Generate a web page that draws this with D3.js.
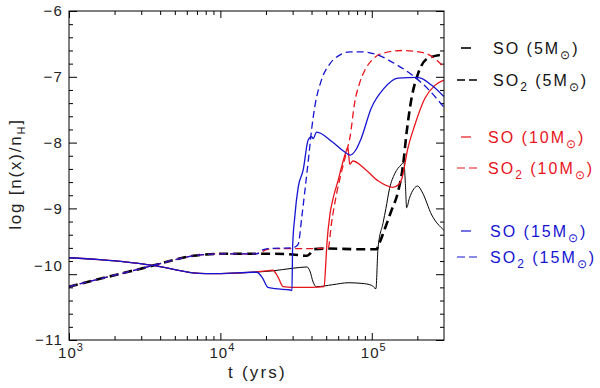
<!DOCTYPE html>
<html>
<head>
<meta charset="utf-8">
<script src="https://cdn.jsdelivr.net/npm/d3@7"></script>
<style>
  body { margin: 0; background: #fff; }
  text { font-family: "Liberation Sans", Arial, sans-serif; fill: #222; }
</style>
</head>
<body>
<div id="chart"></div>
<script>
// ---- data (time in yrs, log abundance) ----
var so5T  = [1e3, 1.6e3, 2.5e3, 3.7e3, 5e3, 6.6e3, 8e3, 1e4, 1.64e4, 2.2e4, 3e4, 3.73e4, 3.9e4, 4.1e4, 4.3e4, 5.5e4, 7e4, 8.6e4, 1e5, 1.065e5, 1.1e5, 1.19e5, 1.24e5, 1.31e5, 1.42e5, 1.56e5, 1.63e5, 1.665e5, 1.7e5, 1.77e5, 1.9e5, 2.01e5, 2.15e5, 2.49e5, 2.99e5];
var so5   = [-9.75, -9.78, -9.82, -9.87, -9.93, -9.98, -9.99, -9.99, -9.97, -9.95, -9.91, -9.89, -9.95, -10.12, -10.19, -10.16, -10.13, -10.14, -10.17, -10.22, -9.6, -9.21, -9.0, -8.70, -8.47, -8.34, -8.30, -8.6, -8.99, -8.85, -8.70, -8.66, -8.75, -9.10, -9.33];

var so2_5T = [1e3, 1.6e3, 2.5e3, 3.7e3, 5e3, 6.6e3, 8e3, 1e4, 1.64e4, 2.2e4, 3e4, 3.73e4, 3.9e4, 4.15e4, 5e4, 8e4, 1.08e5, 1.1e5, 1.22e5, 1.34e5, 1.49e5, 1.61e5, 1.7e5, 1.83e5, 2.01e5, 2.34e5, 2.99e5];
var so2_5  = [-10.19, -10.07, -9.96, -9.86, -9.78, -9.72, -9.70, -9.69, -9.69, -9.69, -9.70, -9.72, -9.69, -9.62, -9.61, -9.62, -9.62, -9.58, -9.31, -9.05, -8.75, -8.34, -7.84, -7.33, -6.97, -6.72, -6.66];

var so10T = [1e3, 1.6e3, 2.5e3, 3.7e3, 5e3, 6.6e3, 8e3, 1e4, 1.64e4, 1.8e4, 2e4, 2.22e4, 2.4e4, 2.6e4, 3e4, 4e4, 4.85e4, 4.95e4, 5.05e4, 5.3e4, 5.55e4, 6e4, 6.4e4, 6.8e4, 6.95e4, 7.15e4, 7.5e4, 9e4, 1.1e5, 1.38e5, 1.5e5, 1.58e5, 1.73e5, 1.92e5, 2.24e5, 2.61e5, 2.99e5];
var so10  = [-9.75, -9.78, -9.82, -9.87, -9.93, -9.98, -9.99, -9.99, -9.97, -9.96, -9.95, -9.94, -10.04, -10.19, -10.2, -10.2, -10.19, -9.9, -9.55, -9.08, -8.85, -8.57, -8.32, -8.12, -8.07, -8.33, -8.28, -8.40, -8.58, -8.68, -8.64, -8.55, -8.09, -7.74, -7.33, -7.13, -7.05];

var so2_10T = [1e3, 1.6e3, 2.5e3, 3.7e3, 5e3, 6.6e3, 8e3, 1e4, 1.64e4, 1.8e4, 2e4, 2.2e4, 3e4, 4e4, 5.16e4, 5.4e4, 5.83e4, 6.3e4, 6.8e4, 7.2e4, 7.7e4, 8.3e4, 9e4, 1e5, 1.15e5, 1.6e5, 2.24e5, 2.6e5, 2.99e5];
var so2_10  = [-10.19, -10.07, -9.96, -9.86, -9.78, -9.72, -9.70, -9.69, -9.69, -9.68, -9.63, -9.61, -9.61, -9.61, -9.60, -9.25, -8.8, -8.45, -8.15, -7.9, -7.40, -7.1, -6.90, -6.75, -6.65, -6.60, -6.64, -6.72, -6.85];

var so15T = [1e3, 1.6e3, 2.5e3, 3.7e3, 5e3, 6.6e3, 8e3, 1e4, 1.64e4, 1.74e4, 1.9e4, 2.06e4, 2.3e4, 2.9e4, 2.97e4, 3e4, 3.1e4, 3.27e4, 3.52e4, 3.8e4, 4e4, 4.1e4, 4.32e4, 5.5e4, 6.6e4, 7.2e4, 7.8e4, 8.5e4, 9.9e4, 1.2e5, 1.49e5, 2.01e5, 2.49e5, 2.99e5];
var so15  = [-9.75, -9.78, -9.82, -9.87, -9.93, -9.98, -9.99, -9.99, -9.97, -9.97, -10.06, -10.2, -10.22, -10.24, -10.25, -9.59, -9.13, -8.67, -8.42, -7.96, -7.91, -7.94, -7.84, -7.99, -8.14, -8.19, -8.12, -7.94, -7.48, -7.18, -7.02, -7.01, -7.13, -7.30];

var so2_15T = [1e3, 1.6e3, 2.5e3, 3.7e3, 5e3, 6.6e3, 8e3, 1e4, 1.64e4, 1.74e4, 1.9e4, 2.06e4, 3e4, 3.15e4, 3.27e4, 3.45e4, 3.62e4, 3.83e4, 4e4, 4.2e4, 4.65e4, 5.3e4, 6.15e4, 7.2e4, 8.5e4, 1.1e5, 1.42e5, 1.84e5, 2.34e5, 2.99e5];
var so2_15  = [-10.19, -10.07, -9.96, -9.86, -9.78, -9.72, -9.70, -9.69, -9.69, -9.69, -9.63, -9.61, -9.60, -9.58, -9.54, -9.13, -8.72, -8.22, -7.81, -7.46, -7.05, -6.80, -6.67, -6.62, -6.62, -6.67, -6.80, -6.97, -7.18, -7.46];

var xMajor = [1e3, 1e4, 1e5];
var yMajor = [-11, -10, -9, -8, -7, -6];
var legendLabels = [
  [["SO (5M", 0], ["⊙", 1], [")", 0]],
  [["SO", 0], ["2", 1], [" (5M", 0], ["⊙", 1], [")", 0]],
  [["SO (10M", 0], ["⊙", 1], [")", 0]],
  [["SO", 0], ["2", 1], [" (10M", 0], ["⊙", 1], [")", 0]],
  [["SO (15M", 0], ["⊙", 1], [")", 0]],
  [["SO", 0], ["2", 1], [" (15M", 0], ["⊙", 1], [")", 0]]
];

// ---- layout ----
var width = 600,
    height = 388,
    margin = {top: 11, right: 156, bottom: 48, left: 69};

var red = "#e8141c", blue = "#1414d2";

var series = [
  {t: so5T,    v: so5,    color: "#000", w: 1,   dash: null},
  {t: so2_5T,  v: so2_5,  color: "#000", w: 2.6, dash: "9,5"},
  {t: so10T,   v: so10,   color: red,    w: 1.3, dash: null},
  {t: so2_10T, v: so2_10, color: red,    w: 1.3, dash: "7,4"},
  {t: so15T,   v: so15,   color: blue,   w: 1.3, dash: null},
  {t: so2_15T, v: so2_15, color: blue,   w: 1.3, dash: "7,4"}
];

var svg = d3.select("#chart")
  .append("svg")
    .attr("width", width)
    .attr("height", height);

var x = d3.scaleLog().domain([1e3, 3e5]).range([margin.left, width - margin.right]);
var y = d3.scaleLinear().domain([-11, -6]).range([height - margin.bottom, margin.top]);

// minor ticks
var xMinor = [];
xMajor.forEach(function(d) {
  for (var k = 2; k <= 9; k++) if (d * k < 3e5) xMinor.push(d * k);
});
var yMinor = d3.range(-11, -6, 0.2).filter(function(d) { return Math.abs(d - Math.round(d)) > 0.01; });

function addAxis(axis, tr, vals, size) {
  var g = svg.append("g")
    .attr("transform", tr)
    .call(axis.tickValues(vals).tickSize(size).tickSizeOuter(0).tickFormat(""));
  g.select(".domain").remove();
  g.selectAll("line").attr("stroke", "#000").attr("stroke-width", 1);
}

var x0 = margin.left, x1 = width - margin.right, y0 = margin.top, y1 = height - margin.bottom;

addAxis(d3.axisBottom(x), "translate(0," + y1 + ")", xMajor, -7);
addAxis(d3.axisBottom(x), "translate(0," + y1 + ")", xMinor, -4);
addAxis(d3.axisTop(x), "translate(0," + y0 + ")", xMajor, -7);
addAxis(d3.axisTop(x), "translate(0," + y0 + ")", xMinor, -4);
addAxis(d3.axisLeft(y), "translate(" + x0 + ",0)", yMajor, -8);
addAxis(d3.axisLeft(y), "translate(" + x0 + ",0)", yMinor, -4);
addAxis(d3.axisRight(y), "translate(" + x1 + ",0)", yMajor, -8);
addAxis(d3.axisRight(y), "translate(" + x1 + ",0)", yMinor, -4);

// curves
svg.append("clipPath").attr("id", "clip")
  .append("rect").attr("x", x0).attr("y", y0).attr("width", x1 - x0).attr("height", y1 - y0);

var line = d3.line()
  .x(function(d) { return x(d[0]); })
  .y(function(d) { return y(d[1]); })
  .curve(d3.curveMonotoneX);

svg.append("g").attr("clip-path", "url(#clip)")
  .selectAll("path")
  .data(series)
  .enter()
  .append("path")
    .attr("d", function(s) { return line(d3.zip(s.t, s.v)); })
    .attr("fill", "none")
    .attr("stroke", function(s) { return s.color; })
    .attr("stroke-width", function(s) { return s.w; })
    .attr("stroke-dasharray", function(s) { return s.dash; });

// frame
svg.append("rect")
  .attr("x", x0).attr("y", y0)
  .attr("width", x1 - x0).attr("height", y1 - y0)
  .attr("fill", "none").attr("stroke", "#000").attr("stroke-width", 1);

// tick labels
svg.selectAll(".ylab")
  .data(yMajor)
  .enter()
  .append("text")
    .attr("x", x0 - 6)
    .attr("y", function(d) { return y(d) + (d === -10 ? -8 : 0); })
    .attr("dy", "0.35em")
    .attr("text-anchor", "end")
    .style("font-size", "15px")
    .style("letter-spacing", "1.2px")
    .text(function(d) { return "\u2212" + Math.abs(d); });

var xl = svg.selectAll(".xlab")
  .data(xMajor)
  .enter()
  .append("text")
    .attr("x", function(d) { return x(d) + 2; })
    .attr("y", y1 + 18)
    .attr("text-anchor", "middle")
    .style("font-size", "15px")
    .style("letter-spacing", "1px");
xl.append("tspan").text("10");
xl.append("tspan").attr("dy", -7).style("font-size", "11px")
  .text(function(d) { return Math.round(Math.log10(d)); });

// axis titles
svg.append("text")
  .attr("x", (x0 + x1) / 2 + 1)
  .attr("y", 378)
  .attr("text-anchor", "middle")
  .style("font-size", "17px")
  .style("letter-spacing", "2.2px")
  .text("t (yrs)");

var yt = svg.append("text")
  .attr("transform", "translate(21,174) rotate(-90)")
  .attr("text-anchor", "middle")
  .style("font-size", "17px")
  .style("letter-spacing", "1.8px");
yt.append("tspan").text("log [n(x)/n");
yt.append("tspan").attr("dy", 4).style("font-size", "11px").text("H");
yt.append("tspan").attr("dy", -4).text("]");

// legend
var legY = [48, 80, 137, 168, 231, 257];
var legX = [493, 493, 488, 488, 490, 490];
series.forEach(function(s, i) {
  var ly = legY[i];
  svg.append("line")
    .attr("x1", s.dash ? 457 : 461).attr("x2", s.dash ? 477 : 471)
    .attr("y1", ly).attr("y2", ly)
    .attr("stroke", s.color)
    .attr("stroke-width", s.color === "#000" ? 1.6 : 1.2)
    .attr("stroke-dasharray", s.dash ? "8,4" : null);
  var t = svg.append("text")
    .attr("x", legX[i]).attr("y", ly + 6)
    .style("font-size", "16px")
    .style("letter-spacing", "2px")
    .style("fill", s.color === "#000" ? "#111" : s.color);
  var prevSub = false;
  legendLabels[i].forEach(function(p) {
    var ts = t.append("tspan").text(p[0]);
    if (p[1] && !prevSub) ts.attr("dy", 5).style("font-size", "12px");
    else if (p[1]) ts.style("font-size", "12px");
    if (!p[1] && prevSub) ts.attr("dy", -5);
    prevSub = !!p[1];
  });
});
</script>
</body>
</html>
